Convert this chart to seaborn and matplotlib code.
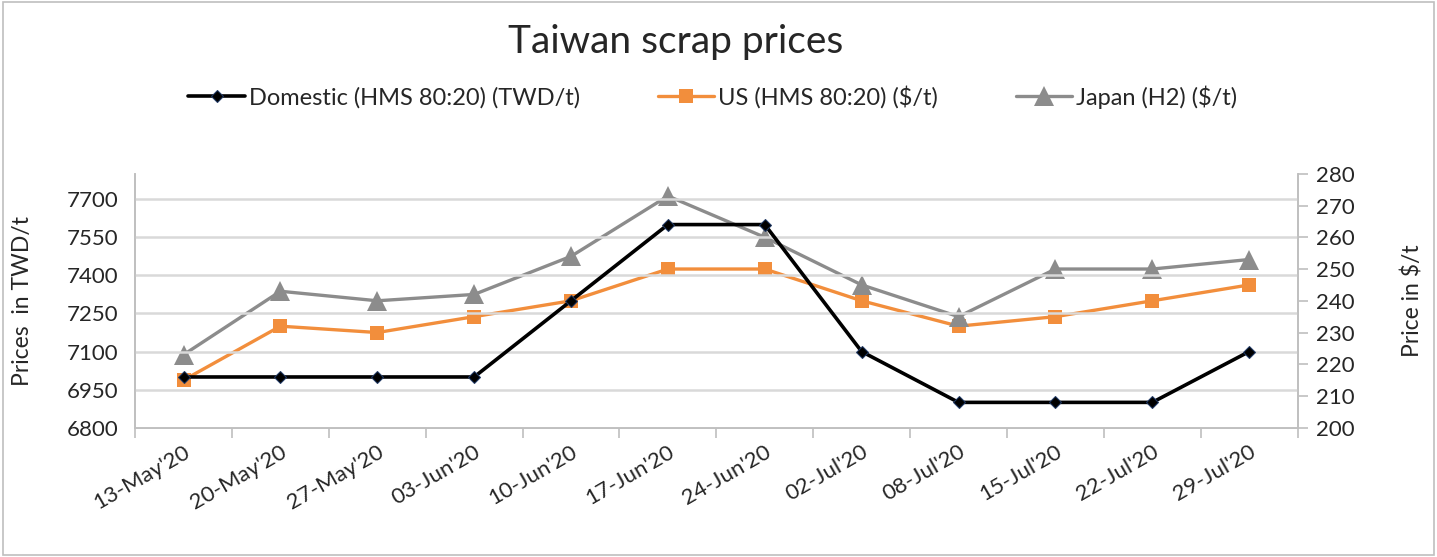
import numpy as np
import pandas as pd
import matplotlib.pyplot as plt
import matplotlib.patches as mpatches
import seaborn as sns

dates = ["13-May'20", "20-May'20", "27-May'20", "03-Jun'20", "10-Jun'20", "17-Jun'20",
         "24-Jun'20", "02-Jul'20", "08-Jul'20", "15-Jul'20", "22-Jul'20", "29-Jul'20"]
domestic = [7000, 7000, 7000, 7000, 7300, 7600, 7600, 7100, 6900, 6900, 6900, 7100]
us = [215, 232, 230, 235, 240, 250, 250, 240, 232, 235, 240, 245]
japan = [223, 243, 240, 242, 254, 273, 260, 245, 235, 250, 250, 253]

left_ticks = [6800, 6950, 7100, 7250, 7400, 7550, 7700]
right_ticks = [200, 210, 220, 230, 240, 250, 260, 270, 280]

df = pd.DataFrame({'pos': np.arange(len(dates)), 'date': dates,
                   'domestic': domestic, 'us': us, 'japan': japan})

sns.set_theme(style='white')
plt.rcParams['font.family'] = ['Lato', 'DejaVu Sans']

fig = plt.figure(figsize=(14.37, 5.57), dpi=100)
ax = fig.add_axes([0.094, 0.232, 0.809, 0.456])
ax2 = ax.twinx()

sns.lineplot(data=df, x='pos', y='domestic', ax=ax, color='black', lw=2.6,
             marker='D', markersize=6, markerfacecolor='black', markeredgecolor='#1f3864',
             label='Domestic (HMS 80:20) (TWD/t)', legend=False)
sns.lineplot(data=df, x='pos', y='us', ax=ax2, color='#f28e3c', lw=2.4,
             marker='s', markersize=10, markeredgewidth=0,
             label='US (HMS 80:20) ($/t)', legend=False)
sns.lineplot(data=df, x='pos', y='japan', ax=ax2, color='#8c8c8c', lw=2.4,
             marker='^', markersize=14, markeredgewidth=0,
             label='Japan (H2) ($/t)', legend=False)

ax.set_zorder(ax2.get_zorder() + 1)
ax.patch.set_visible(False)

ax.set_xlim(-0.5, len(dates) - 0.5)
ax.set_ylim(6800, 7800)
ax2.set_ylim(200, 280)
ax.set_yticks(left_ticks)
ax2.set_yticks(right_ticks)
ax.set_yticklabels([str(t) for t in left_ticks], fontsize=16)
ax2.set_yticklabels([str(t) for t in right_ticks], fontsize=16)

ax.set_xticks(np.arange(-0.5, len(dates), 1), minor=False)
ax.set_xticklabels([])
ax.set_xticks(df['pos'], minor=True)
ax.set_xticklabels(dates, minor=True, rotation=30, ha='right', rotation_mode='anchor', fontsize=16)
ax.tick_params(axis='x', which='major', length=7, color='#bfbfbf', width=1.2, direction='out', bottom=True)
ax.tick_params(axis='x', which='minor', length=0, pad=10, bottom=True)
ax.tick_params(axis='y', length=0, pad=12)
ax2.tick_params(axis='y', length=7, color='#bfbfbf', width=1.2, direction='out', right=True, pad=6)

ax.yaxis.grid(True, color='#d9d9d9', lw=1.8)
ax.set_axisbelow(True)

for a in (ax, ax2):
    a.spines['top'].set_visible(False)
    for s in ['left', 'bottom', 'right']:
        a.spines[s].set_color('#bfbfbf')
        a.spines[s].set_linewidth(1.2)

ax.set_xlabel('')
ax.set_ylabel('Prices  in TWD/t', fontsize=16.5)
ax2.set_ylabel('Price in $/t', fontsize=16.5)
ax.yaxis.set_label_coords(-0.088, 0.5)
ax2.yaxis.set_label_coords(1.089, 0.5)

fig.text(0.47, 0.925, 'Taiwan scrap prices', ha='center', va='center', fontsize=28)

h1, l1 = ax.get_legend_handles_labels()
h2, l2 = ax2.get_legend_handles_labels()
fig.legend(h1 + h2, l1 + l2, loc='center', bbox_to_anchor=(0.496, 0.826), ncol=3,
           frameon=False, fontsize=17, handlelength=2.4, columnspacing=3.3, handletextpad=0.15)

fig.patches.append(mpatches.Rectangle((0.002, 0.004), 0.996, 0.992, transform=fig.transFigure,
                                      fill=False, edgecolor='#bfbfbf', lw=1.2))

fig.savefig('out.png', dpi=100)
